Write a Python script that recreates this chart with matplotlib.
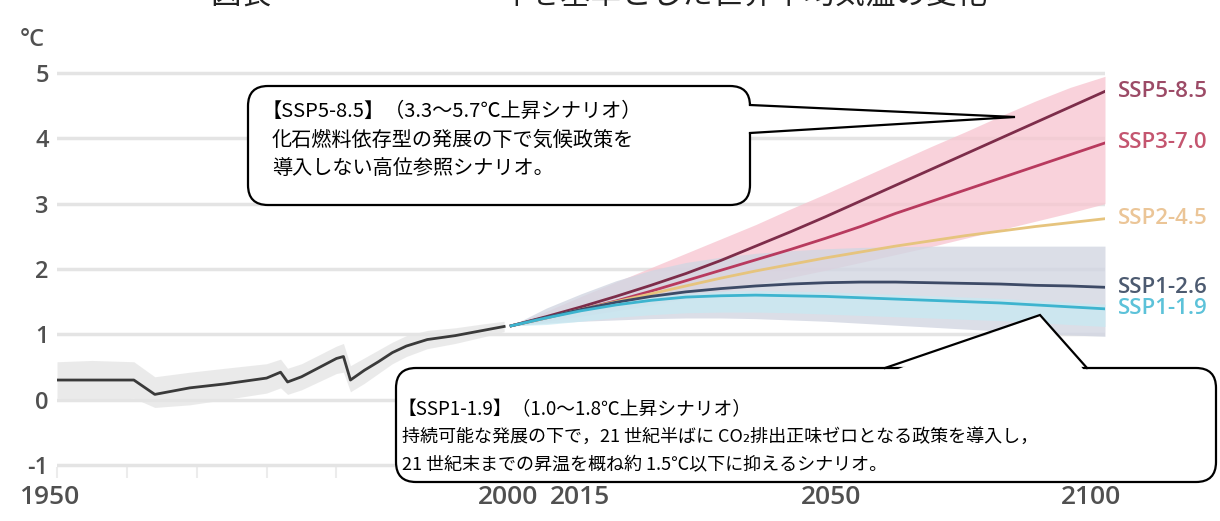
import matplotlib
matplotlib.use("Agg")
import matplotlib.pyplot as plt
from matplotlib.patches import FancyBboxPatch, Polygon

plt.rcParams['font.family'] = ['Noto Sans CJK JP', 'DejaVu Sans']

# historical (1950-2014)
hist_years = [1950, 1955, 1961, 1964, 1969, 1974, 1980, 1982, 1983, 1985, 1990, 1991,
              1992, 1994, 1996, 1998, 2000, 2003, 2007, 2011, 2014]
hist_vals = [0.30, 0.30, 0.30, 0.08, 0.18, 0.24, 0.33, 0.42, 0.27, 0.35, 0.63, 0.66,
             0.30, 0.45, 0.58, 0.72, 0.82, 0.92, 0.98, 1.06, 1.12]
hist_low = [0.02, 0.00, 0.02, -0.12, -0.08, 0.00, 0.10, 0.18, 0.08, 0.15, 0.40, 0.42,
            0.12, 0.25, 0.40, 0.55, 0.66, 0.78, 0.86, 0.96, 1.04]
hist_high = [0.58, 0.60, 0.58, 0.35, 0.42, 0.48, 0.55, 0.62, 0.48, 0.55, 0.82, 0.86,
             0.52, 0.64, 0.76, 0.88, 0.98, 1.06, 1.10, 1.16, 1.20]

# projections (2015-2100)
proj_years = [2015, 2020, 2025, 2030, 2035, 2040, 2045, 2050, 2055, 2060, 2065, 2070,
              2075, 2080, 2085, 2090, 2095, 2100]
ssp585 = [1.13, 1.27, 1.42, 1.58, 1.75, 1.93, 2.13, 2.35, 2.57, 2.80, 3.04, 3.28,
          3.52, 3.76, 4.00, 4.24, 4.48, 4.72]
ssp370 = [1.13, 1.25, 1.38, 1.51, 1.66, 1.82, 1.98, 2.14, 2.30, 2.47, 2.65, 2.85,
          3.03, 3.21, 3.39, 3.57, 3.75, 3.93]
ssp245 = [1.13, 1.25, 1.38, 1.50, 1.62, 1.74, 1.86, 1.97, 2.07, 2.17, 2.26, 2.35,
          2.43, 2.51, 2.58, 2.65, 2.71, 2.77]
ssp126 = [1.13, 1.26, 1.38, 1.49, 1.58, 1.65, 1.70, 1.74, 1.77, 1.79, 1.80, 1.80,
          1.79, 1.78, 1.77, 1.75, 1.74, 1.72]
ssp119 = [1.13, 1.25, 1.36, 1.45, 1.52, 1.57, 1.59, 1.60, 1.59, 1.58, 1.56, 1.54,
          1.52, 1.50, 1.48, 1.45, 1.42, 1.39]
high_low = [1.13, 1.20, 1.28, 1.36, 1.45, 1.55, 1.65, 1.76, 1.87, 1.98, 2.10, 2.22,
            2.34, 2.47, 2.60, 2.73, 2.86, 3.00]
high_high = [1.13, 1.35, 1.58, 1.80, 2.02, 2.24, 2.46, 2.68, 2.92, 3.15, 3.39, 3.63,
             3.87, 4.10, 4.34, 4.57, 4.78, 4.95]
low_low = [1.13, 1.17, 1.20, 1.22, 1.24, 1.25, 1.25, 1.24, 1.22, 1.20, 1.17, 1.14,
           1.11, 1.08, 1.05, 1.02, 0.99, 0.97]
low_high = [1.13, 1.40, 1.62, 1.82, 1.98, 2.10, 2.18, 2.24, 2.28, 2.31, 2.33, 2.34,
            2.35, 2.35, 2.35, 2.35, 2.35, 2.35]
vlow_low = [1.13, 1.15, 1.20, 1.26, 1.30, 1.33, 1.34, 1.34, 1.33, 1.31, 1.29, 1.27,
            1.25, 1.23, 1.21, 1.18, 1.15, 1.12]
vlow_high = [1.13, 1.30, 1.42, 1.51, 1.58, 1.63, 1.66, 1.67, 1.66, 1.65, 1.63, 1.61,
             1.59, 1.57, 1.55, 1.52, 1.49, 1.46]

scenarios = ['SSP5-8.5', 'SSP3-7.0', 'SSP2-4.5', 'SSP1-2.6', 'SSP1-1.9']
series = [ssp585, ssp370, ssp245, ssp126, ssp119]
line_colors = ['#7d2d4a', '#b83a5e', '#e6c47e', '#3d4a66', '#3db4cf']
label_colors = ['#9c4a66', '#c4556f', '#ebc597', '#4c5a70', '#5cc2d9']

y_ticks = [-1, 0, 1, 2, 3, 4, 5]
x_labels = ['1950', '2000', '2015', '2050', '2100']

fig = plt.figure(figsize=(12.2, 5.21), dpi=100)
ax = fig.add_axes([57 / 1220, 1 - 478 / 521, 1048 / 1220, 418 / 521])
ax.set_xlim(1950, 2100)
ax.set_ylim(-1.2, 5.2)
for s in ax.spines.values():
    s.set_visible(False)

ax.set_yticks(y_ticks)
ax.set_yticklabels([str(v) for v in y_ticks], fontsize=17, color='#505050',
                   family=['Open Sans', 'DejaVu Sans'], fontweight='semibold')
ax.tick_params(axis='y', length=0, pad=6)
ax.yaxis.grid(True, color='#e4e4e4', lw=2.5)
ax.set_axisbelow(True)
ax.set_xticks(range(1950, 2101, 10))
ax.set_xticklabels([])
ax.tick_params(axis='x', direction='in', length=8, color='#ececec', width=1.5)

# historical
ax.fill_between(hist_years, hist_low, hist_high, color='#e4e4e4', alpha=0.75, lw=0)
ax.plot(hist_years, hist_vals, color='#3a3a3a', lw=2)

# projection ranges
ax.fill_between(proj_years, high_low, high_high, color='#f7c4cf', alpha=0.75, lw=0)
ax.fill_between(proj_years, low_low, low_high, color='#d2d6e2', alpha=0.8, lw=0)
ax.fill_between(proj_years, vlow_low, vlow_high, color='#c6eaf3', alpha=0.7, lw=0)

for name, vals, lc, tc in zip(scenarios, series, line_colors, label_colors):
    ax.plot(proj_years, vals, color=lc, lw=2)
    ax.annotate(name, xy=(proj_years[-1], vals[-1]), xytext=(9, 0),
                textcoords='offset points', va='center', ha='left', fontsize=16,
                color=tc, family=['Open Sans', 'DejaVu Sans'], fontweight='semibold',
                annotation_clip=False)

# overlay in pixel coordinates for texts and callouts
ov = fig.add_axes([0, 0, 1, 1], zorder=5)
ov.set_xlim(0, 1220)
ov.set_ylim(521, 0)
ov.axis('off')
ov.patch.set_alpha(0)

# title (cut at top, as in the source image)
ov.text(210, -5, '図表', fontsize=22, va='center', ha='left', color='#222222')
ov.text(500, -5, '年を基準とした世界平均気温の変化', fontsize=22, va='center',
        ha='left', color='#222222')
ov.text(20, 40, '°C', fontsize=17, va='center', ha='left', color='#505050',
        family=['Open Sans', 'DejaVu Sans'], fontweight='semibold')

for lab, xc in zip(x_labels, [49, 508, 580, 831, 1091]):
    ov.text(xc, 498, lab, fontsize=19, ha='center', va='center', color='#505050',
            family=['Open Sans', 'DejaVu Sans'], fontweight='semibold')


def callout(x0, y0, x1, y1, base1, tip, base2, fill_pts):
    box = FancyBboxPatch((x0, y0), x1 - x0, y1 - y0,
                         boxstyle='round,pad=0,rounding_size=20',
                         fc='white', ec='black', lw=1.6)
    ov.add_patch(box)
    ov.add_patch(Polygon(fill_pts, closed=True, fc='white', ec='none'))
    ov.plot([base1[0], tip[0], base2[0]], [base1[1], tip[1], base2[1]],
            color='black', lw=1.6, solid_joinstyle='miter')


callout(248, 86, 750, 205, (750, 105), (1015, 117), (750, 133),
        [(744, 105), (1015, 117), (744, 133)])
ov.text(262, 111, '【SSP5-8.5】（3.3～5.7℃上昇シナリオ）', fontsize=14.5, va='center')
ov.text(272, 140, '化石燃料依存型の発展の下で気候政策を', fontsize=14.5, va='center')
ov.text(272, 169, '導入しない高位参照シナリオ。', fontsize=14.5, va='center')

callout(396, 368, 1216, 482, (885, 368), (1040, 315), (1087, 368),
        [(885, 374), (1040, 315), (1087, 374)])
ov.text(398, 410, '【SSP1-1.9】（1.0～1.8℃上昇シナリオ）', fontsize=13.5, va='center')
ov.text(402, 437, '持続可能な発展の下で，21 世紀半ばに CO₂排出正味ゼロとなる政策を導入し，',
        fontsize=13, va='center')
ov.text(402, 465, '21 世紀末までの昇温を概ね約 1.5℃以下に抑えるシナリオ。', fontsize=13,
        va='center')

fig.savefig('out.png', dpi=100)
